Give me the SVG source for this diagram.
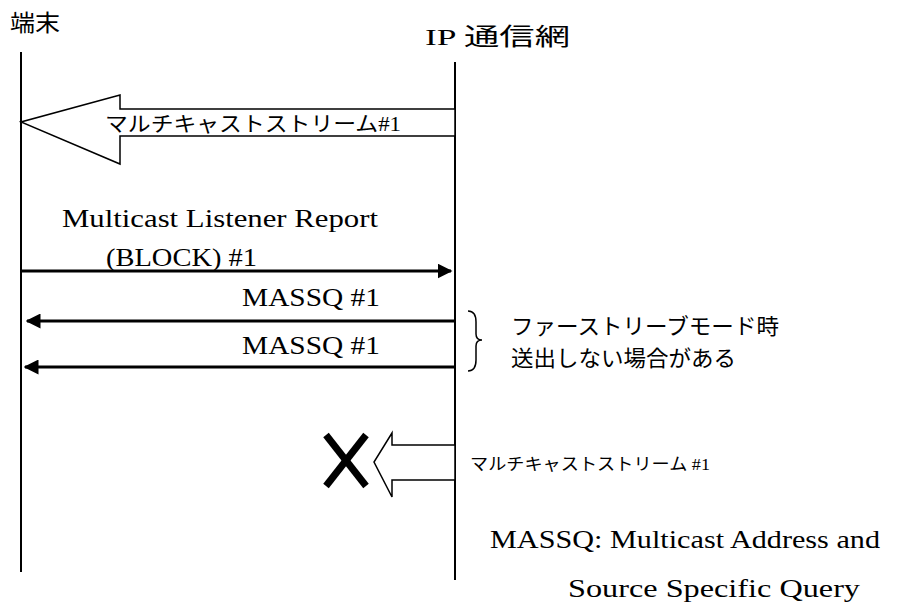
<svg xmlns="http://www.w3.org/2000/svg" width="898" height="608" viewBox="0 0 898 608">
<style>
text{font-family:"Liberation Serif","Noto Sans CJK JP",serif;fill:#000}
.t{font-size:26px}
.j{font-size:22px}
.life{stroke:#000;stroke-width:2;fill:none}
.msg{stroke:#000;stroke-width:3;fill:none}
.blk{fill:#fff;stroke:#000;stroke-width:1.5}
</style>
<defs>
<marker id="ah" viewBox="0 0 10 10" refX="9" refY="5" markerWidth="5" markerHeight="5" orient="auto-start-reverse" markerUnits="strokeWidth">
<path d="M0,0 L10,5 L0,10 Z" fill="#000"/>
</marker>
</defs>
<rect width="898" height="608" fill="#fff"/>
<g id="terminal">
<text x="10" y="31" font-size="23" textLength="50" lengthAdjust="spacingAndGlyphs">端末</text>
<line class="life" x1="21" y1="52" x2="21" y2="572"/>
</g>
<g id="ipnet">
<text x="425" y="45" font-size="24" textLength="145" lengthAdjust="spacingAndGlyphs">IP 通信網</text>
<line class="life" x1="455" y1="62" x2="455" y2="580"/>
</g>
<g id="connectors">
<g id="stream1">
<polygon class="blk" points="455,109 120,109 120,95 21,122 120,164 120,136 455,136"/>
<text x="105" y="131" font-size="21" textLength="296" lengthAdjust="spacingAndGlyphs">マルチキャストストリーム#1</text>
</g>
<g id="report">
<text x="62" y="227" class="t" textLength="316" lengthAdjust="spacingAndGlyphs">Multicast Listener Report</text>
<text x="106" y="266" class="t" textLength="151" lengthAdjust="spacingAndGlyphs">(BLOCK) #1</text>
<line class="msg" x1="21" y1="271" x2="451" y2="271" marker-end="url(#ah)"/>
</g>
<g id="massq1">
<text x="242" y="306" class="t" textLength="138" lengthAdjust="spacingAndGlyphs">MASSQ #1</text>
<line class="msg" x1="455" y1="321" x2="27" y2="321" marker-end="url(#ah)"/>
</g>
<g id="massq2">
<text x="242" y="354" class="t" textLength="138" lengthAdjust="spacingAndGlyphs">MASSQ #1</text>
<line class="msg" x1="455" y1="367" x2="25" y2="367" marker-end="url(#ah)"/>
</g>
<g id="stream2">
<polygon class="blk" points="455,445 392,445 392,433 374,462 392,497 392,480 455,480"/>
<text x="470" y="470" font-size="17" textLength="240" lengthAdjust="spacingAndGlyphs">マルチキャストストリーム #1</text>
</g>
</g>
<g id="note">
<path d="M468,311 Q476,311 476,322 L476,334 Q476,340 482,340 Q476,340 476,346 L476,360 Q476,371 468,371" fill="none" stroke="#000" stroke-width="1.5"/>
<text x="511" y="334" class="j" textLength="268" lengthAdjust="spacingAndGlyphs">ファーストリーブモード時</text>
<text x="511" y="366" class="j" textLength="225" lengthAdjust="spacingAndGlyphs">送出しない場合がある</text>
</g>
<g id="cross">
<line x1="326" y1="435" x2="366" y2="486" stroke="#000" stroke-width="7"/>
<line x1="366" y1="435" x2="326" y2="486" stroke="#000" stroke-width="7"/>
</g>
<g id="legend">
<text x="490" y="548" class="t" textLength="390" lengthAdjust="spacingAndGlyphs">MASSQ: Multicast Address and</text>
<text x="568" y="597" class="t" textLength="292" lengthAdjust="spacingAndGlyphs">Source Specific Query</text>
</g>
</svg>
